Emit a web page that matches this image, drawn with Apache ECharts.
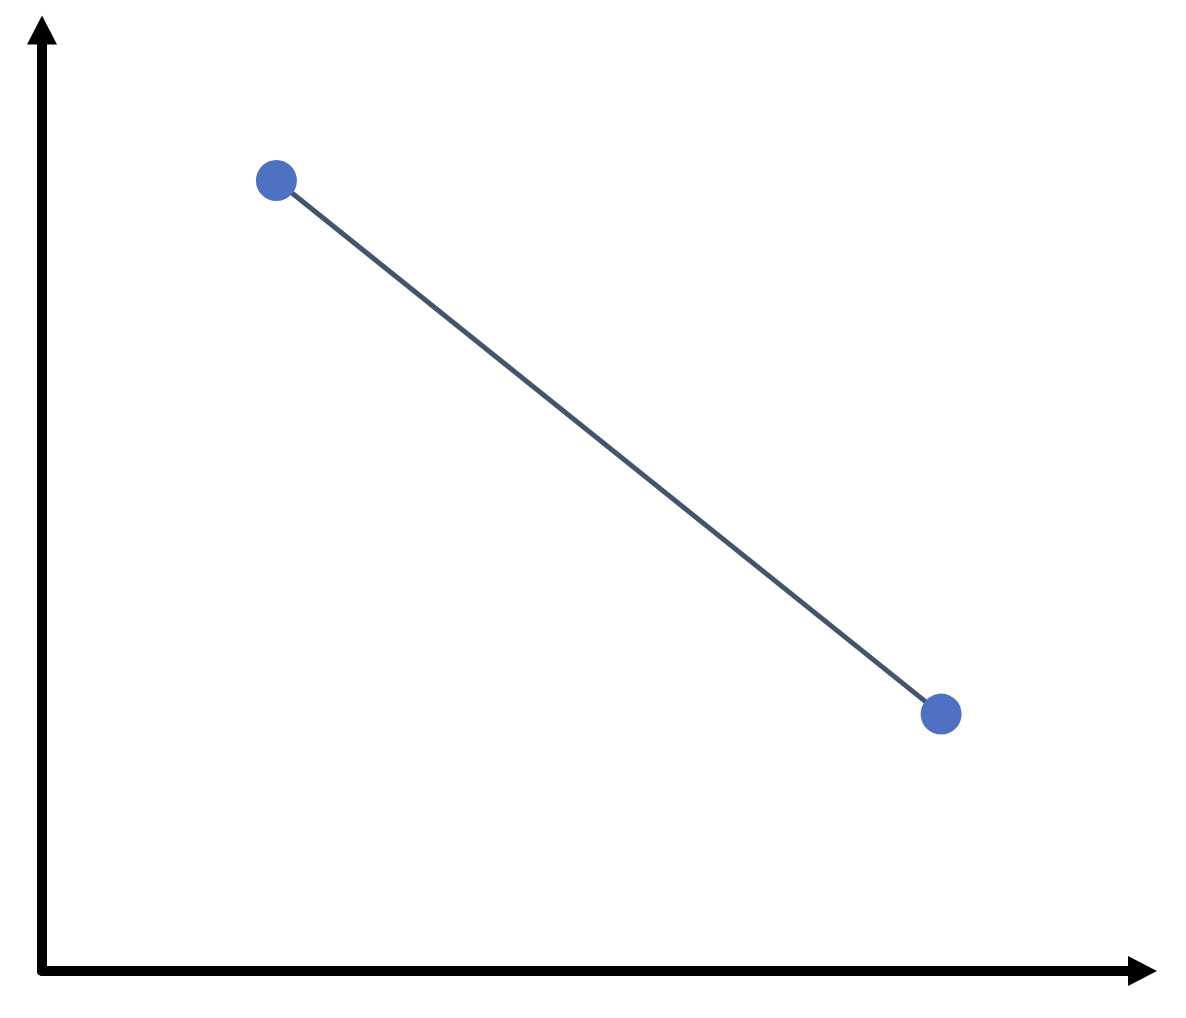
<!DOCTYPE html>
<html>
<head>
<meta charset="utf-8">
<script src="https://cdn.jsdelivr.net/npm/echarts@6/dist/echarts.min.js"></script>
<style>
  html, body { margin: 0; padding: 0; background: #ffffff; }
  #chart { width: 1186px; height: 1018px; }
</style>
</head>
<body>
<div id="chart"></div>
<script>
// Data (axis range 0..10 on both axes)
const xValues = [2.13, 8.17];
const yValues = [8.4, 2.73];
const xRange = [0, 10];
const yRange = [0, 10];

const points = xValues.map((x, i) => [x, yValues[i]]);

const chart = echarts.init(document.getElementById('chart'), null, { renderer: 'canvas' });

const axisCommon = {
  type: 'value',
  axisLabel: { show: false },
  axisTick: { show: false },
  splitLine: { show: false },
  axisLine: {
    show: true,
    onZero: false,
    symbol: ['none', 'triangle'],
    symbolSize: [30, 29],
    lineStyle: { color: '#000000', width: 10 }
  }
};

chart.setOption({
  animation: false,
  backgroundColor: '#ffffff',
  grid: { left: 42, right: 43.5, top: 30, bottom: 47, containLabel: false },
  xAxis: Object.assign({}, axisCommon, { min: xRange[0], max: xRange[1] }),
  yAxis: Object.assign({}, axisCommon, { min: yRange[0], max: yRange[1] }),
  series: [{
    type: 'line',
    data: points,
    symbol: 'circle',
    symbolSize: 41,
    showSymbol: true,
    clip: false,
    itemStyle: { color: '#4E72C1', borderWidth: 0 },
    lineStyle: { color: '#44546A', width: 5 }
  }]
});
</script>
</body>
</html>
